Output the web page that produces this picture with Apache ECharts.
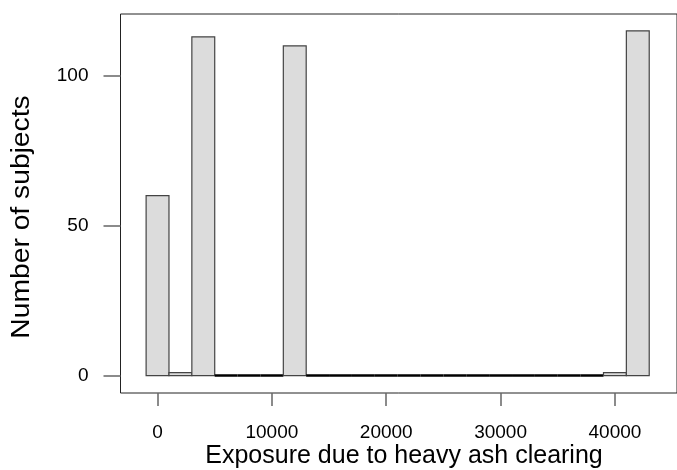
<!DOCTYPE html>
<html>
<head>
<meta charset="utf-8">
<script src="https://cdn.jsdelivr.net/npm/echarts@6/dist/echarts.min.js"></script>
<style>
html,body{margin:0;padding:0;background:#fff;}
#chart{width:677px;height:470px;}
</style>
</head>
<body>
<div id="chart"></div>
<script>
// Histogram bins (edges) and counts
var binEdges = [-1000, 1000, 3000, 5000, 7000, 9000, 11000, 13000, 15000, 17000, 19000,
                21000, 23000, 25000, 27000, 29000, 31000, 33000, 35000, 37000, 39000, 41000, 43000];
var counts = [60, 1, 113, 0, 0, 0, 110, 0, 0, 0, 0, 0, 0, 0, 0, 0, 0, 0, 0, 0, 1, 115];
var xTicks = [0, 10000, 20000, 30000, 40000];
var yTicks = [0, 50, 100];
var xTitle = 'Exposure due to heavy ash clearing';
var yTitle = 'Number of subjects';

var data = [];
for (var i = 0; i < counts.length; i++) {
  data.push([binEdges[i], binEdges[i + 1], counts[i]]);
}

var chart = echarts.init(document.getElementById('chart'), null, {renderer: 'canvas'});
var FONT = 'Liberation Sans, Arial, sans-serif';

chart.setOption({
  animation: false,
  backgroundColor: '#ffffff',
  grid: {
    left: 120.5, top: 14, width: 570, height: 379,
    show: true, borderColor: '#222', borderWidth: 1, backgroundColor: 'transparent',
    containLabel: false
  },
  xAxis: {
    type: 'value', min: -3240, max: 45429,
    splitLine: {show: false},
    axisLine: {show: false, onZero: false},
    axisTick: {show: true, length: 13, lineStyle: {color: '#666', width: 1.5}, customValues: xTicks},
    axisLabel: {show: true, customValues: xTicks, margin: 30, fontSize: 19, color: '#000', fontFamily: FONT,
      formatter: function (v) { return String(v); }}
  },
  yAxis: {
    type: 'value', min: -5.8, max: 120.6,
    splitLine: {show: false},
    axisLine: {show: false, onZero: false},
    axisTick: {show: true, length: 17, lineStyle: {color: '#666', width: 1.5}, customValues: yTicks},
    axisLabel: {show: true, customValues: yTicks, margin: 32, fontSize: 19, color: '#000', fontFamily: FONT,
      formatter: function (v) { return String(v); }}
  },
  series: [{
    type: 'custom',
    clip: false,
    encode: {x: [0, 1], y: 2},
    data: data,
    renderItem: function (params, api) {
      var x0 = api.value(0), x1 = api.value(1), c = api.value(2);
      var p0 = api.coord([x0, c]);
      var p1 = api.coord([x1, 0]);
      var zero = c === 0;
      return {
        type: 'rect',
        shape: {x: p0[0], y: p0[1], width: p1[0] - p0[0], height: p1[1] - p0[1]},
        style: {
          fill: '#dcdcdc',
          stroke: zero ? '#000' : '#444',
          lineWidth: zero ? 2.5 : 1.2
        }
      };
    }
  }],
  graphic: [
    {
      type: 'text', x: 404, y: 444,
      style: {text: xTitle, fontSize: 25, fontFamily: FONT, fill: '#000', align: 'center', verticalAlign: 'top'}
    },
    {
      type: 'text', x: 10, y: 217, rotation: Math.PI / 2, scaleX: 1.13,
      style: {text: yTitle, fontSize: 25, fontFamily: FONT, fill: '#000', align: 'center', verticalAlign: 'top'}
    }
  ]
});
</script>
</body>
</html>
